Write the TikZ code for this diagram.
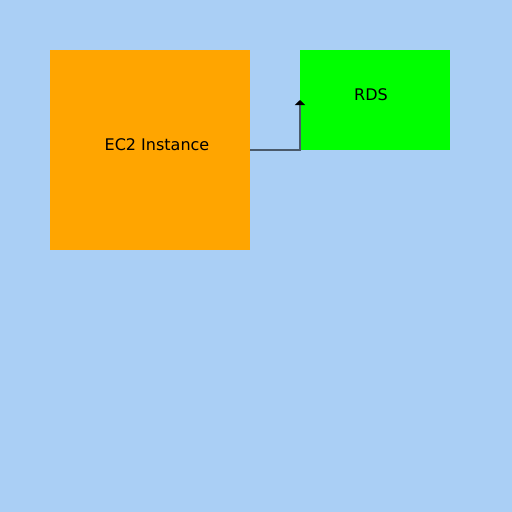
\documentclass[tikz,border=0pt]{standalone}
\usepackage{fontspec}
\setmainfont{DejaVu Sans}
\usetikzlibrary{arrows.meta}
\definecolor{bgblue}{HTML}{AACFF5}
\definecolor{ecorange}{HTML}{FFA500}
\definecolor{rdsgreen}{HTML}{00FF00}
\definecolor{linkgray}{HTML}{4A5A6A}
\tikzset{
  box/.style={draw=none, inner sep=0pt, outer sep=0pt, anchor=north west},
  lbl/.style={inner sep=0pt, font=\fontsize{16}{19}\selectfont, text=black},
  link/.style={draw=linkgray, line width=1.3pt, -{Triangle[width=10pt,length=5pt,color=black]}}
}
\begin{document}
\begin{tikzpicture}[x=1pt,y=-1pt]
\fill[bgblue] (0,0) rectangle (512,512);
\useasboundingbox (0,0) rectangle (512,512);
\node[box, fill=ecorange, minimum width=200pt, minimum height=200pt] (ec2) at (50,50) {};
\node[box, fill=rdsgreen, minimum width=150pt, minimum height=100pt] (rds) at (300,50) {};
\node[lbl] (ec2lbl) at (157,144.5) {EC2 Instance};
\node[lbl] (rdslbl) at (371,94.5) {RDS};
\draw[link] (ec2.east) -| (rds.west);
\end{tikzpicture}
\end{document}
